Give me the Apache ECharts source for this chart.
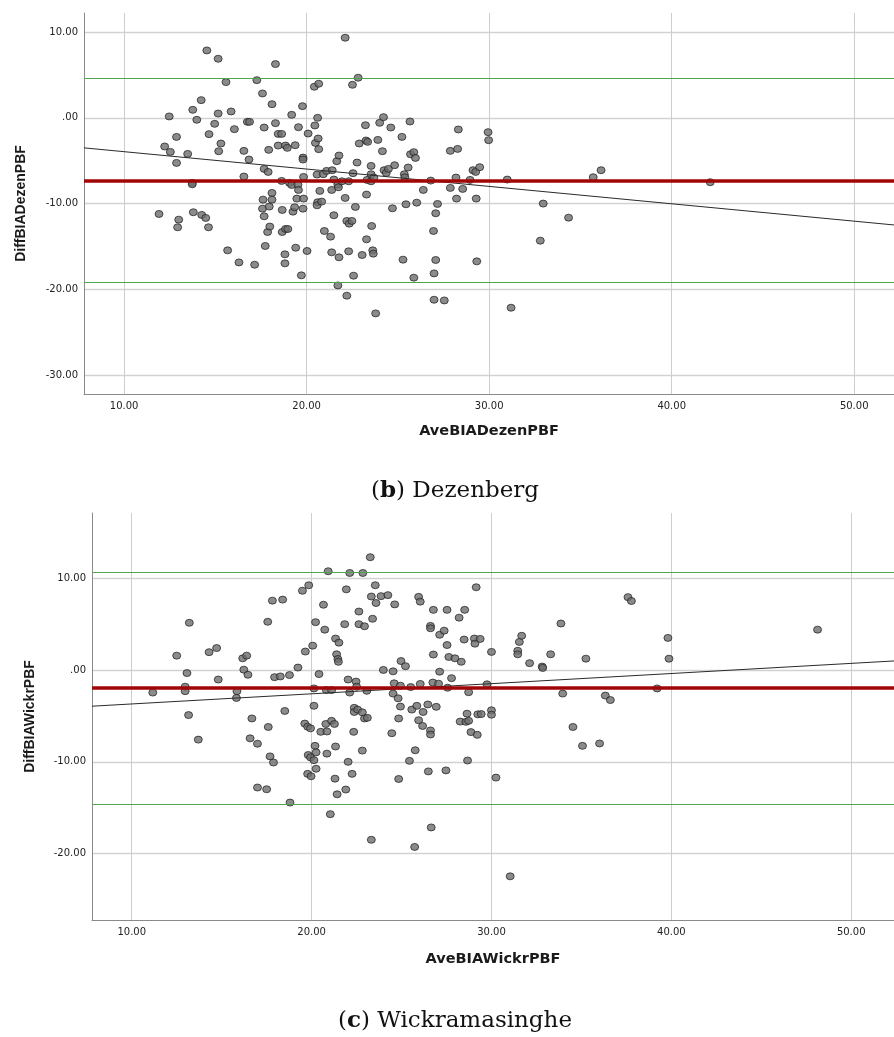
<!DOCTYPE html>
<html><head><meta charset="utf-8">
<script src="https://cdn.jsdelivr.net/npm/echarts@6/dist/echarts.min.js"></script>
<style>html,body{margin:0;padding:0;background:#fff}#c{width:894px;height:1037px}</style>
</head><body><div id="c"></div><script>
// ---- (b) Dezenberg ----
const dezAve = [11.91,12.22,12.47,12.53,12.87,12.87,12.99,12.93,13.48,13.76,13.98,13.73,13.73,13.79,14.22,14.25,14.47,14.62,14.53,14.65,
14.96,15.15,15.15,15.18,15.3,15.58,15.67,15.86,16.04,16.29,16.56,16.56,16.75,16.87,16.84,17.15,17.27,17.58,17.67,17.67,
17.89,17.61,17.58,17.67,17.73,17.92,17.86,17.95,17.98,18.1,18.1,18.1,18.29,18.29,18.44,18.63,18.44,18.84,18.94,18.63,
18.66,18.66,18.84,18.97,18.81,18.81,19.06,19.18,19.18,19.25,19.34,19.37,19.4,19.46,19.55,19.52,19.55,19.77,19.8,19.8,
19.83,19.83,19.8,19.71,20.02,20.08,20.42,20.45,20.48,20.6,20.66,20.63,20.66,20.57,20.72,20.6,20.57,20.82,20.91,20.97,
21.09,21.31,21.37,21.4,21.37,21.49,21.49,21.65,21.77,21.71,21.74,21.71,21.77,21.93,22.11,22.11,22.2,22.2,22.3,22.33,
22.3,22.48,22.51,22.54,22.57,22.67,22.76,22.82,22.88,23.04,23.22,23.25,23.34,23.31,23.28,23.28,23.53,23.53,23.53,23.56,
23.62,23.65,23.68,23.78,23.9,24.0,24.15,24.21,24.24,24.36,24.48,24.61,24.7,24.82,25.22,25.28,25.35,25.38,25.44,25.56,
25.66,25.69,25.87,25.96,25.87,26.03,26.39,26.8,26.95,26.98,26.98,27.07,27.07,27.17,27.54,27.87,27.87,28.18,28.21,28.27,
28.31,28.55,28.95,29.11,29.26,29.29,29.32,29.48,29.94,29.97,30.99,31.2,32.8,32.96,34.35,35.7,36.13,42.11];
const dezDiff = [-11.2,-3.34,0.16,-3.97,-2.22,-5.25,-11.86,-12.75,-4.2,0.93,-0.23,-7.58,-7.74,-11.0,2.06,-11.31,-11.66,-12.75,7.85,-1.9,
-0.7,6.88,0.5,-3.89,-2.99,4.16,-15.44,0.74,-1.32,-16.84,-3.85,-6.84,-0.47,-0.47,-4.86,-17.11,4.39,2.84,-1.13,-5.95,
-6.3,-9.53,-10.58,-11.47,-14.93,-3.73,-13.3,-10.34,-12.67,1.59,-8.75,-9.53,6.26,-0.62,-1.87,-1.87,-3.23,-3.23,-3.5,-7.35,
-10.73,-13.3,-12.95,-12.95,-15.9,-16.95,-7.58,0.35,-7.82,-10.93,-10.42,-3.19,-15.13,-9.41,-1.09,-7.78,-8.4,1.36,-4.63,-4.86,
-6.88,-9.41,-10.58,-18.35,-15.51,-1.83,3.62,-0.89,-2.92,0.0,3.97,-2.41,-3.65,-6.61,-8.51,-9.84,-10.19,-9.76,-6.57,-13.18,
-6.18,-13.84,-8.4,-6.1,-15.67,-11.35,-7.19,-5.05,-4.39,-7.78,-8.09,-19.52,-16.25,-7.39,9.33,-9.33,-12.01,-20.72,-7.39,-12.33,
-15.55,-12.01,3.85,-6.45,-18.39,-10.38,-5.21,4.67,-2.99,-15.98,-0.86,-2.64,-2.8,-7.23,-8.94,-14.15,-5.6,-6.57,-7.39,-12.6,
-15.44,-15.82,-6.96,-22.78,-2.57,-0.58,-3.89,0.08,-6.1,-6.42,-5.95,-1.13,-10.54,-5.52,-2.22,-16.52,-6.57,-6.92,-10.07,-5.79,
-0.43,-4.24,-4.0,-4.67,-18.62,-9.88,-8.4,-7.31,-13.18,-18.12,-21.19,-11.12,-16.56,-10.03,-21.27,-3.85,-8.16,-6.96,-9.41,-3.62,
-1.36,-8.28,-7.23,-6.1,-6.3,-9.41,-16.72,-5.75,-1.67,-2.6,-7.19,-22.12,-14.31,-9.99,-11.63,-6.92,-6.1,-7.5];
const dezLimits = [4.64, -7.28, -19.17];           // upper LoA, mean, lower LoA
const dezFitX = [7.8, 52.18];
const dezFitY = [-3.50, -12.48];
const dezXRange = [7.8, 52.18];
const dezYRange = [-32.17, 12.21];

// ---- (c) Wickramasinghe ----
const wickAve = [11.17,12.5,12.97,12.97,13.07,13.2,13.16,13.7,14.3,14.72,14.81,15.85,15.82,16.17,16.39,16.23,16.46,16.68,16.58,16.99,
16.99,17.5,17.56,17.59,17.69,17.88,17.82,17.94,18.26,18.39,18.51,18.77,18.8,19.24,19.49,19.65,19.62,19.84,19.78,19.94,
19.81,19.94,19.78,19.97,20.06,20.13,20.13,20.19,20.13,20.25,20.25,20.22,20.41,20.51,20.66,20.73,20.79,20.85,20.85,20.92,
20.82,21.11,21.11,21.04,21.27,21.33,21.3,21.33,21.52,21.39,21.46,21.49,21.42,21.84,21.93,22.03,22.03,21.9,22.12,22.12,
22.25,22.37,22.37,22.34,22.47,22.5,22.56,22.63,22.63,22.82,22.85,22.82,22.94,22.94,23.07,23.1,23.26,23.32,23.32,23.39,
23.54,23.58,23.86,23.99,24.24,24.46,24.53,24.53,24.59,24.62,24.81,24.84,24.84,24.94,24.94,24.97,25.22,25.44,25.51,25.57,
25.73,25.76,25.85,25.95,25.95,26.04,26.04,26.2,26.17,26.46,26.49,26.61,26.61,26.65,26.61,26.61,26.77,26.77,26.74,26.93,
27.06,27.12,27.12,27.37,27.53,27.53,27.47,27.56,27.63,27.78,27.97,28.2,28.26,28.32,28.48,28.51,28.58,28.64,28.67,28.73,
28.73,28.86,29.05,29.08,29.15,29.21,29.24,29.37,29.43,29.75,30.0,30.0,30.0,30.25,31.04,31.46,31.46,31.55,31.68,32.12,
32.82,32.85,33.29,33.86,33.96,34.53,35.06,35.25,36.01,36.33,36.61,37.59,37.78,39.21,39.81,39.87,48.13];
const wickDiff = [-2.43,1.6,-1.79,-2.28,-0.3,5.19,-4.89,-7.57,1.98,2.43,-1.01,-2.28,-3.02,1.31,1.6,0.07,-0.49,-5.26,-7.43,-8.02,
-12.8,-12.99,5.3,-6.19,-9.4,-10.07,7.61,-0.75,-0.67,7.72,-4.44,-0.52,-14.44,0.3,8.69,2.05,-5.82,9.29,-6.16,-6.34,
-9.25,-9.51,-11.31,-11.57,2.69,-1.98,-3.88,-8.25,-9.81,-8.96,-10.75,5.26,-0.41,-6.72,7.16,4.44,-5.86,-6.68,-9.1,10.82,
-2.16,-2.16,-5.52,-15.71,-5.86,-8.32,-11.83,3.47,3.02,1.75,1.23,0.93,-13.54,5.04,8.84,-1.01,-10.0,-13.02,10.63,-2.43,
-11.31,-4.1,-4.55,-6.72,-1.23,-1.79,-4.29,6.42,5.04,-8.77,10.63,-4.59,4.81,-5.26,-2.24,-5.19,12.35,8.06,-18.51,5.63,
9.29,7.35,8.1,0.04,8.21,-6.87,-0.11,-2.54,-1.42,7.2,-3.06,-5.26,-11.87,-1.68,-3.96,1.01,0.45,-9.89,-1.83,-4.29,
-19.29,-8.73,-3.88,8.02,-5.45,7.5,-1.49,-4.55,-6.08,-3.73,-11.04,4.85,4.59,-17.16,-6.57,-7.01,6.6,1.72,-1.34,-3.99,
-1.46,3.88,-0.15,4.33,6.6,2.76,-10.93,-1.9,1.46,-0.86,1.31,5.75,-5.6,0.93,3.36,6.6,-5.63,-4.74,-9.85,-2.39,
-5.52,-6.75,3.47,2.91,9.07,-7.05,-4.81,3.43,-4.78,-1.53,2.01,-4.37,-4.85,-11.72,-22.5,2.13,1.75,3.1,3.77,0.78,
0.41,0.26,1.75,5.11,-2.54,-6.19,-8.25,1.27,-7.99,-2.76,-3.25,7.99,7.57,-1.98,3.54,1.27,4.44];
const wickLimits = [10.73, -1.93, -14.58];
const wickFitX = [7.79, 52.38];
const wickFitY = [-3.92, 1.02];
const wickXRange = [7.79, 52.38];
const wickYRange = [-27.27, 17.18];

const captions = ['b', 'Dezenberg', 'c', 'Wickramasinghe'];
const axisTitles = ['AveBIADezenPBF', 'DiffBIADezenPBF', 'AveBIAWickrPBF', 'DiffBIAWickrPBF'];

const fmt = v => Math.abs(v) < 1e-9 ? '.00' : v.toFixed(2);
const zip = (a, b) => a.map((v, i) => [v, b[i]]);

function xAxis(idx, range, name, gap) {
  return {
    type: 'value', gridIndex: idx, min: range[0], max: range[1], splitNumber: 5,
    name: name, nameLocation: 'middle', nameGap: gap,
    nameTextStyle: { fontFamily: 'DejaVu Sans', fontWeight: 'bold', fontSize: 14.5, color: '#1a1a1a' },
    axisLine: { onZero: false, lineStyle: { color: '#8a8a8a', width: 1 } },
    axisTick: { show: false },
    axisLabel: { formatter: fmt, margin: 7, showMinLabel: false, showMaxLabel: false,
      fontFamily: 'DejaVu Sans', fontSize: 10, color: '#222' },
    splitLine: { show: true, showMinLine: false, showMaxLine: false, lineStyle: { color: '#cdcdcd', width: 1 } }
  };
}
function yAxis(idx, range, name, gap) {
  return {
    type: 'value', gridIndex: idx, min: range[0], max: range[1], splitNumber: 5,
    name: name, nameLocation: 'middle', nameGap: gap, nameRotate: 90,
    nameTextStyle: { fontFamily: 'Liberation Sans', fontWeight: 'bold', fontSize: 14, color: '#1a1a1a' },
    axisLine: { show: true, onZero: false, lineStyle: { color: '#8a8a8a', width: 1 } },
    axisTick: { show: false },
    axisLabel: { formatter: fmt, margin: 6, showMinLabel: false, showMaxLabel: false,
      fontFamily: 'DejaVu Sans', fontSize: 10, color: '#222' },
    splitLine: { show: true, showMinLine: false, showMaxLine: false, lineStyle: { color: '#d2d2d2', width: 1.3 } }
  };
}
const dotStyle = { color: '#6e6e6e', borderColor: '#1c1c1c', borderWidth: 0.9 };
function limitLines(lim) {
  return {
    symbol: 'none', silent: true, label: { show: false }, animation: false,
    data: [
      { yAxis: lim[0], lineStyle: { color: '#4ea64e', width: 1.2, type: 'solid' } },
      { yAxis: lim[2], lineStyle: { color: '#4ea64e', width: 1.2, type: 'solid' } },
      { yAxis: lim[1], lineStyle: { color: '#a10606', width: 3.6, type: 'solid' } }
    ]
  };
}

const chart = echarts.init(document.getElementById('c'), null, { renderer: 'canvas' });
chart.setOption({
  animation: false,
  backgroundColor: '#fff',
  grid: [
    { left: 84, top: 13, width: 820, height: 381 },
    { left: 92, top: 513, width: 804, height: 407 }
  ],
  xAxis: [xAxis(0, dezXRange, axisTitles[0], 30), xAxis(1, wickXRange, axisTitles[2], 32)],
  yAxis: [yAxis(0, dezYRange, axisTitles[1], 56), yAxis(1, wickYRange, axisTitles[3], 55)],
  series: [
    { type: 'scatter', xAxisIndex: 0, yAxisIndex: 0, data: zip(dezAve, dezDiff),
      symbol: 'circle', symbolSize: [8, 7], itemStyle: dotStyle, z: 2 },
    { type: 'line', xAxisIndex: 0, yAxisIndex: 0, data: zip(dezFitX, dezFitY), showSymbol: false, silent: true,
      lineStyle: { color: '#2a2a2a', width: 1 }, z: 4, markLine: limitLines(dezLimits) },
    { type: 'scatter', xAxisIndex: 1, yAxisIndex: 1, data: zip(wickAve, wickDiff),
      symbol: 'circle', symbolSize: [8, 7], itemStyle: dotStyle, z: 2 },
    { type: 'line', xAxisIndex: 1, yAxisIndex: 1, data: zip(wickFitX, wickFitY), showSymbol: false, silent: true,
      lineStyle: { color: '#2a2a2a', width: 1 }, z: 4, markLine: limitLines(wickLimits) }
  ],
  graphic: [
    { type: 'text', x: 455, y: 491, style: { text: '({b|' + captions[0] + '}) ' + captions[1],
      font: '23px "DejaVu Serif"', fill: '#111', align: 'center', verticalAlign: 'middle',
      rich: { b: { font: 'bold 23px "DejaVu Serif"', fill: '#111' } } } },
    { type: 'text', x: 455, y: 1021, style: { text: '({b|' + captions[2] + '}) ' + captions[3],
      font: '23px "DejaVu Serif"', fill: '#111', align: 'center', verticalAlign: 'middle',
      rich: { b: { font: 'bold 23px "DejaVu Serif"', fill: '#111' } } } }
  ]
});
</script></body></html>
